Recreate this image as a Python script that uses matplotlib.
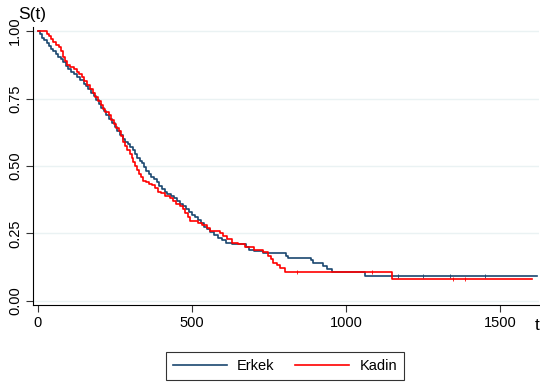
import matplotlib.pyplot as plt

# Kaplan-Meier step points (time, survival after the drop)
erkek_t = [0, 8, 14, 20, 28, 35, 42, 50, 58, 66, 74, 80, 90, 98, 108, 118, 128, 138,
           148, 156, 164, 172, 182, 190, 198, 206, 214, 222, 232, 240, 250, 258, 268,
           276, 284, 292, 300, 308, 316, 322, 330, 338, 346, 352, 360, 368, 376, 386,
           394, 402, 412, 420, 432, 442, 452, 462, 472, 482, 492, 500, 510, 520, 528,
           538, 548, 560, 572, 585, 598, 612, 630, 676, 684, 700, 730, 806, 812, 888,
           894, 925, 938, 955, 1062]
erkek_s = [1.0, 0.99, 0.975, 0.965, 0.955, 0.945, 0.935, 0.925, 0.915, 0.905, 0.895,
           0.885, 0.87, 0.86, 0.85, 0.84, 0.83, 0.82, 0.805, 0.795, 0.785, 0.77, 0.76,
           0.745, 0.73, 0.715, 0.705, 0.69, 0.675, 0.66, 0.645, 0.63, 0.615, 0.60,
           0.59, 0.58, 0.57, 0.56, 0.545, 0.53, 0.52, 0.51, 0.495, 0.48, 0.47, 0.46,
           0.45, 0.44, 0.425, 0.415, 0.405, 0.395, 0.39, 0.38, 0.37, 0.36, 0.35, 0.34,
           0.33, 0.32, 0.31, 0.30, 0.29, 0.275, 0.265, 0.255, 0.245, 0.235, 0.225,
           0.215, 0.21, 0.20, 0.19, 0.185, 0.178, 0.168, 0.159, 0.15, 0.141, 0.13,
           0.12, 0.107, 0.092]
erkek_end = 1622
erkek_cens = [1169, 1250, 1338, 1451]

kadin_t = [0, 30, 36, 42, 50, 58, 68, 76, 82, 88, 96, 104, 118, 126, 134, 142, 150,
           160, 170, 178, 186, 194, 204, 212, 218, 232, 238, 246, 254, 262, 270, 276,
           284, 290, 298, 304, 310, 316, 322, 328, 336, 342, 352, 362, 372, 380, 390,
           400, 414, 428, 438, 448, 460, 470, 478, 486, 494, 520, 532, 548, 560, 590,
           600, 615, 630, 650, 672, 700, 730, 746, 756, 764, 776, 786, 802, 1149]
kadin_s = [1.0, 0.99, 0.98, 0.97, 0.96, 0.95, 0.94, 0.925, 0.905, 0.89, 0.875, 0.868,
           0.86, 0.85, 0.84, 0.83, 0.815, 0.80, 0.785, 0.77, 0.755, 0.74, 0.725, 0.71,
           0.70, 0.69, 0.67, 0.655, 0.64, 0.63, 0.61, 0.59, 0.575, 0.56, 0.545, 0.53,
           0.515, 0.50, 0.485, 0.47, 0.46, 0.445, 0.44, 0.435, 0.43, 0.42, 0.405, 0.40,
           0.39, 0.38, 0.37, 0.36, 0.35, 0.34, 0.325, 0.31, 0.295, 0.29, 0.28, 0.27,
           0.26, 0.252, 0.24, 0.23, 0.215, 0.21, 0.20, 0.19, 0.18, 0.165, 0.155, 0.142,
           0.132, 0.122, 0.107, 0.081]
kadin_end = 1604
kadin_cens = [840, 1084, 1347, 1386]

y_ticks = [0, 0.25, 0.5, 0.75, 1.0]
x_ticks = [0, 500, 1000, 1500]

BLUE = "#1a476f"
RED = "#ff0000"

plt.rcParams['font.family'] = ['Liberation Sans', 'DejaVu Sans']

fig = plt.figure(figsize=(5.4, 3.83), dpi=100)
ax = fig.add_axes([33 / 540, 1 - 305 / 383, (539 - 33) / 540, (305 - 27) / 383])


def surv_value(ts, ss, x):
    v = ss[0]
    for t, s in zip(ts, ss):
        if t <= x:
            v = s
    return v


for ts, ss, end, cens, col, lab in [(erkek_t, erkek_s, erkek_end, erkek_cens, BLUE, "Erkek"),
                                     (kadin_t, kadin_s, kadin_end, kadin_cens, RED, "Kadin")]:
    ax.step(ts + [end], ss + [ss[-1]], where="post", color=col, lw=1.2, label=lab)
    ax.plot(cens, [surv_value(ts, ss, c) for c in cens], "|", color=col, ms=3, mew=0.6)

ax.set_xlim(-16, 1627)
ax.set_ylim(-0.015, 1.015)
ax.set_xticks(x_ticks)
ax.set_yticks(y_ticks)
ax.set_yticklabels(["%.2f" % v for v in y_ticks], rotation=90, va="center")
ax.tick_params(labelsize=10.5, length=5, width=0.8, color="#333333", pad=3)
ax.grid(axis="y", color="#eaf2f3", lw=1)
ax.set_axisbelow(True)
for side in ["top", "right"]:
    ax.spines[side].set_visible(False)
for side in ["left", "bottom"]:
    ax.spines[side].set_linewidth(0.8)

fig.text(18 / 540, 1 - 14 / 383, "S(t)", fontsize=12.5, va="center", ha="left")
fig.text(537 / 540, 1 - 325 / 383, "t", fontsize=12.5, va="center", ha="center")

leg = fig.legend(loc="center", bbox_to_anchor=(285 / 540, 1 - 366 / 383), ncol=2,
                 fontsize=10.5, frameon=True, fancybox=False, edgecolor="black",
                 handlelength=3.7, handletextpad=0.7, columnspacing=1.4, borderpad=0.5)
leg.get_frame().set_linewidth(0.8)

fig.savefig("out.png", dpi=100)
